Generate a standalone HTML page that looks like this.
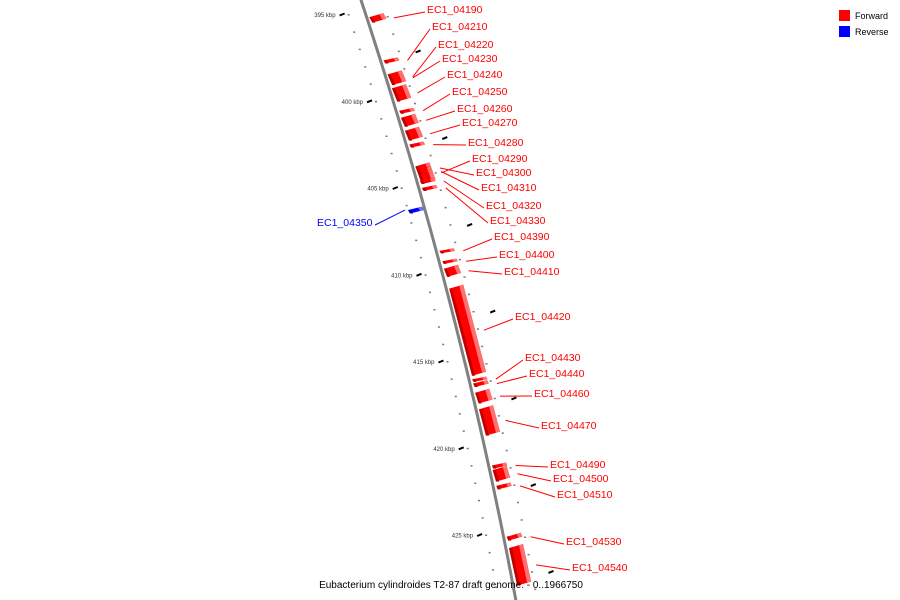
<!DOCTYPE html>
<html><head><meta charset="utf-8"><style>
html,body{margin:0;padding:0;background:#fff;}
svg{display:block;font-family:"Liberation Sans",sans-serif;}
</style></head><body>
<svg id="chart" width="900" height="600" viewBox="0 0 900 600">
<g id="ticks"></g>
<path id="backbone" fill="none" stroke="#808080" stroke-width="3"/>
<g id="genes"></g>
<g id="labels"></g>
<g>
<rect x="839" y="10" width="11" height="11" fill="#ff0000"/>
<text x="855" y="19" font-size="9" fill="#000">Forward</text>
<rect x="839" y="26" width="11" height="11" fill="#0000ff"/>
<text x="855" y="35" font-size="9" fill="#000">Reverse</text>
</g>
<text x="451" y="588" font-size="10" text-anchor="middle" fill="#000">Eubacterium cylindroides T2-87 draft genome. - 0..1966750</text>
</svg>
<script>
const geneNames = ["EC1_04190","EC1_04210","EC1_04220","EC1_04230","EC1_04240","EC1_04250","EC1_04260","EC1_04270","EC1_04280","EC1_04290","EC1_04300","EC1_04310","EC1_04320","EC1_04330","EC1_04350","EC1_04390","EC1_04400","EC1_04410","EC1_04420","EC1_04430","EC1_04440","EC1_04460","EC1_04470","EC1_04490","EC1_04500","EC1_04510","EC1_04530","EC1_04540"];
const geneStartKbp = [394.95,397.5,398.45,398.25,399.05,400.4,400.75,401.5,402.35,403.55,403.8,403.95,404.45,404.85,406.1,408.5,409.1,409.45,410.6,415.9,416.1,416.6,417.55,420.85,421.05,422.0,424.9,425.55];
const geneEndKbp   = [395.5,397.85,398.8,399.1,400.05,400.75,401.5,402.3,402.7,404.75,403.95,404.2,404.8,405.2,406.5,408.8,409.4,410.15,415.85,416.2,416.5,417.45,419.3,421.2,421.95,422.4,425.35,427.95];
const geneStrand = ["+","+","+","+","+","+","+","+","+","+","+","+","+","+","-","+","+","+","+","+","+","+","+","+","+","+","+","+"];
const labelX = [427,432,438,442,447,452,457,462,468,472,476,481,486,490,317,494,499,504,515,525,529,534,541,550,553,557,566,572];
const labelY = [9,26,44,58,74,91,108,122,142,158,172,187,205,220,222,236,254,271,316,357,373,393,425,464,478,494,541,567];
const majorTicks = [395,400,405,410,415,420,425];
const majorLabels = ["395 kbp","400 kbp","405 kbp","410 kbp","415 kbp","420 kbp","425 kbp"];

const NS="http://www.w3.org/2000/svg";
function yOf(k){ return 14 + (k-395)*17.35; }
function bx(y){ return 361 + 0.33*y - 0.00012*y*y; }
function mk(t,p){ const e=document.createElementNS(NS,t); p.appendChild(e); return e; }

// backbone
let d="";
for(let y=-5;y<=605;y+=5){ d+=(y===-5?"M":"L")+bx(y).toFixed(1)+" "+y; }
const bb=document.getElementById("backbone"); bb.setAttribute("d",d);

// ticks
const tg=document.getElementById("ticks");
for(let k=394;k<=430;k++){
  const y=yOf(k); if(y<-5||y>605) continue;
  const x=bx(y);
  const dl=mk("rect",tg);
  
  
  dl.setAttribute("x",(x-18).toFixed(1)); dl.setAttribute("y",y.toFixed(1)); dl.setAttribute("width","2"); dl.setAttribute("height","1.5"); dl.setAttribute("fill","#777");
  const dr=mk("rect",tg);
  
  
  dr.setAttribute("x",(x+21).toFixed(1)); dr.setAttribute("y",(y+2).toFixed(1)); dr.setAttribute("width","2"); dr.setAttribute("height","1.5"); dr.setAttribute("fill","#777");
}
majorTicks.forEach((k,i)=>{
  const y=yOf(k), x=bx(y);
  const l=mk("line",tg);
  
  
  l.setAttribute("x1",(x-26).toFixed(1)); l.setAttribute("y1",(y+1.5).toFixed(1)); l.setAttribute("x2",(x-21).toFixed(1)); l.setAttribute("y2",(y-0.5).toFixed(1));
  l.setAttribute("stroke","#000"); l.setAttribute("stroke-width","2");
  const t=mk("text",tg);
  
  
  t.setAttribute("x",(x-30).toFixed(1)); t.setAttribute("y",(y+3).toFixed(1)); t.setAttribute("font-size","6"); t.setAttribute("text-anchor","end"); t.setAttribute("fill","#333");
  t.textContent=majorLabels[i];
  const ry=yOf(k+2.5)-6, rx=bx(ry);
  const r=mk("line",tg);
  
  
  r.setAttribute("x1",(rx+38).toFixed(1)); r.setAttribute("y1",(ry+1).toFixed(1)); r.setAttribute("x2",(rx+43).toFixed(1)); r.setAttribute("y2",(ry-1).toFixed(1));
  r.setAttribute("stroke","#000"); r.setAttribute("stroke-width","2");
});

// genes
const gg=document.getElementById("genes"), lg=document.getElementById("labels");
geneNames.forEach((n,i)=>{
  const y1=yOf(geneStartKbp[i]), y2=yOf(geneEndKbp[i]);
  const fwd=geneStrand[i]==="+";
  const col=fwd?"#ff0000":"#0000ff", light=fwd?"#ff7070":"#7070ff", dark=fwd?"#c00000":"#0000b0";
  const o1=fwd?4:-16, o2=fwd?18:-2;
  const a=bx(y1), b=bx(y2);
  const p=mk("polygon",gg);
  
  
  const tip=Math.min(4,(y2-y1)/2);
  p.setAttribute("points",`${a+o1},${y1+tip} ${a+o2},${y1} ${b+o2},${y2-tip} ${b+o1},${y2}`);
  p.setAttribute("fill",col);
  const s=mk("polygon",gg);
  
  
  s.setAttribute("points",`${a+o2-4},${y1+1} ${a+o2},${y1} ${b+o2},${y2-tip} ${b+o2-4},${y2-tip+1}`);
  s.setAttribute("fill",light);
  const s2=mk("polygon",gg);
  
  
  s2.setAttribute("points",`${a+o1},${y1+tip} ${a+o1+3},${y1+tip} ${b+o1+3},${y2} ${b+o1},${y2}`);
  s2.setAttribute("fill",dark);
  const my=(y1+y2)/2, mx=bx(my)+(fwd?o2+9:o1-4);
  const ln=mk("line",lg);
  
  
  const tx=labelX[i], ty=labelY[i];
  const lx=fwd?tx-2:tx+58;
  ln.setAttribute("x1",mx.toFixed(1)); ln.setAttribute("y1",my.toFixed(1)); ln.setAttribute("x2",lx); ln.setAttribute("y2",ty+3);
  ln.setAttribute("stroke",col); ln.setAttribute("stroke-width","1");
  const t=mk("text",lg);
  
  
  t.setAttribute("x",tx); t.setAttribute("y",ty+4); t.setAttribute("font-size","10.5"); t.setAttribute("fill",col);
  t.textContent=n;
});
</script>
</body></html>
